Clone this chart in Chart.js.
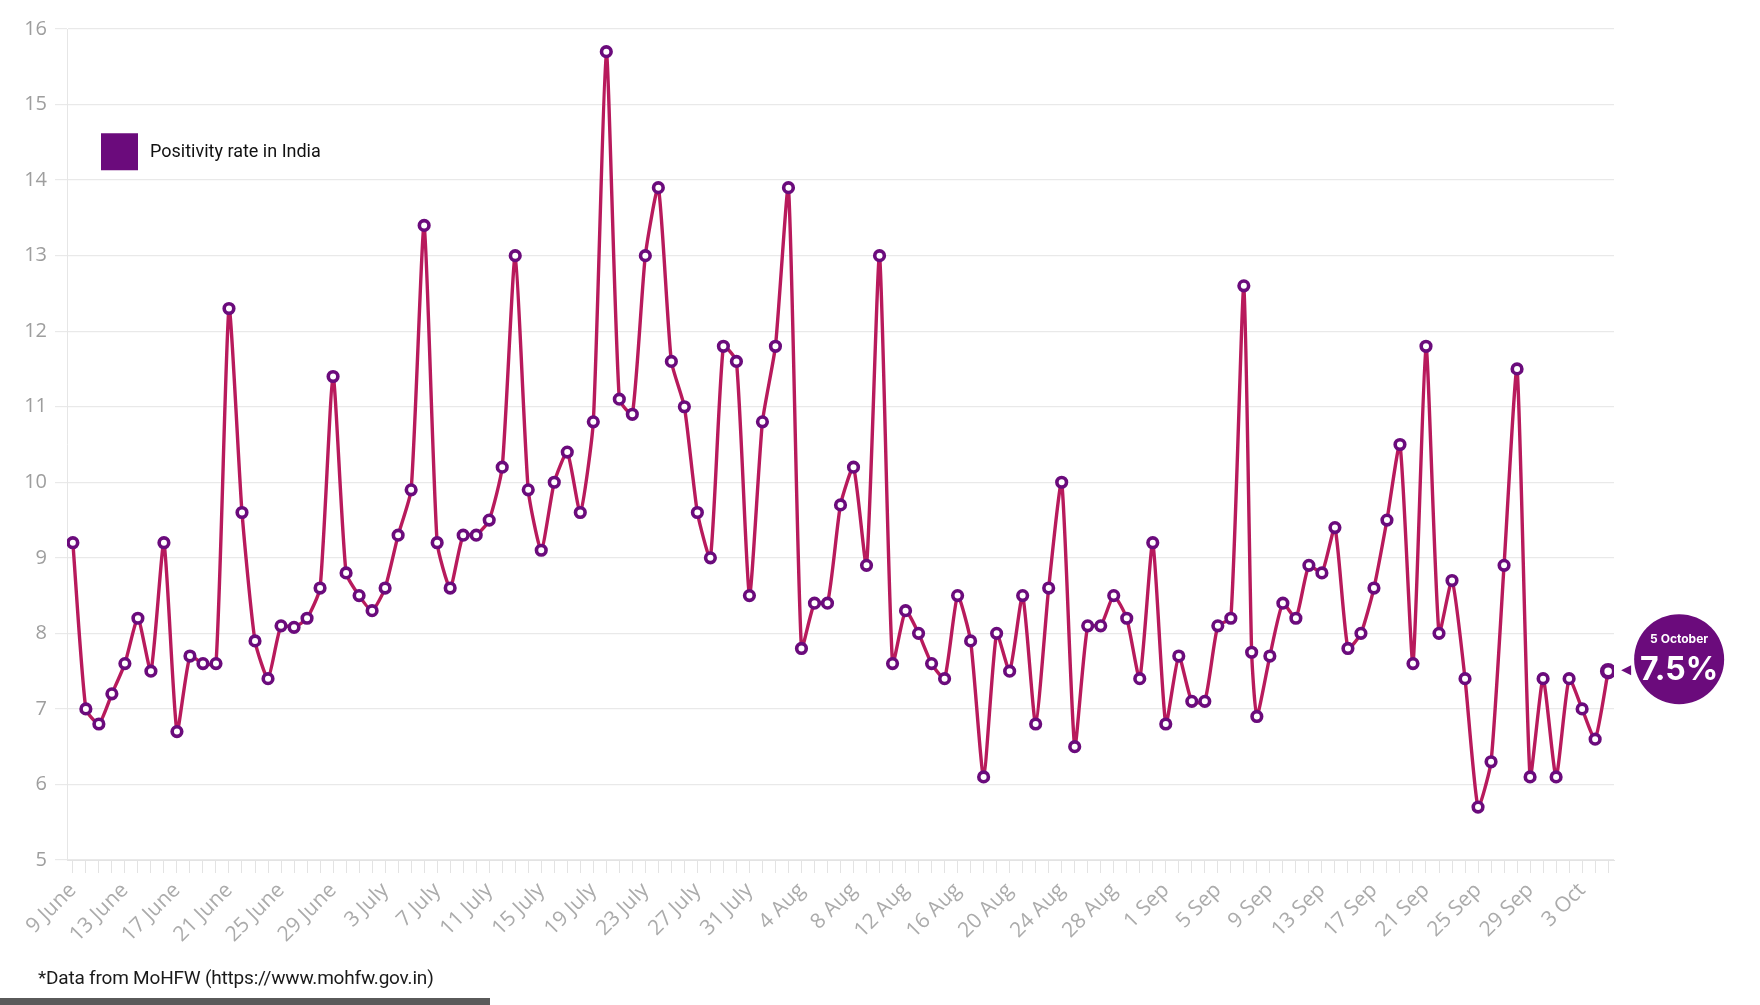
<!DOCTYPE html>
<html>
<head>
<meta charset="utf-8">
<script src="https://cdn.jsdelivr.net/npm/chart.js@4.4.1/dist/chart.umd.min.js"></script>
<style>
  html, body { margin: 0; padding: 0; background: #ffffff; }
  #wrap { position: relative; width: 1760px; height: 1005px; overflow: hidden; background: #fff; }
  #c { position: absolute; left: 0; top: 0; }
  #note { position: absolute; left: 38px; top: 966px; font-family: Roboto, "Noto Sans", sans-serif; font-size: 19px; color: #1a1a1a; letter-spacing: -0.2px; }
  #bar { position: absolute; left: 0; top: 998px; width: 490px; height: 7px; background: #5a5a5a; }
</style>
</head>
<body>
<div id="wrap">
  <canvas id="c" width="1760" height="1005"></canvas>
  <div id="note">*Data from MoHFW (https://www.mohfw.gov.in)</div>
  <div id="bar"></div>
</div>
<script>
// ---- Data ----
const seriesLabel = 'Positivity rate in India';

// day offset from 9 June for each plotted point (one extra reading sits between 7 and 8 Sep)
const dayOffset = [
  0,1,2,3,4,5,6,7,8,9,10,11,12,13,14,15,16,17,18,19,
  20,21,22,23,24,25,26,27,28,29,30,31,32,33,34,35,36,37,38,39,
  40,41,42,43,44,45,46,47,48,49,50,51,52,53,54,55,56,57,58,59,
  60,61,62,63,64,65,66,67,68,69,70,71,72,73,74,75,76,77,78,79,
  80,81,82,83,84,85,86,87,88,89,90,90.6,91,92,93,94,95,96,97,98,99,
  100,101,102,103,104,105,106,107,108,109,110,111,112,113,114,115,116,117,118
];

const positivity = [
  9.2,7.0,6.8,7.2,7.6,8.2,7.5,9.2,6.7,7.7,7.6,7.6,12.3,9.6,7.9,7.4,8.1,8.08,8.2,8.6,
  11.4,8.8,8.5,8.3,8.6,9.3,9.9,13.4,9.2,8.6,9.3,9.3,9.5,10.2,13.0,9.9,9.1,10.0,10.4,9.6,
  10.8,15.7,11.1,10.9,13.0,13.9,11.6,11.0,9.6,9.0,11.8,11.6,8.5,10.8,11.8,13.9,7.8,8.4,8.4,9.7,
  10.2,8.9,13.0,7.6,8.3,8.0,7.6,7.4,8.5,7.9,6.1,8.0,7.5,8.5,6.8,8.6,10.0,6.5,8.1,8.1,
  8.5,8.2,7.4,9.2,6.8,7.7,7.1,7.1,8.1,8.2,12.6,7.75,6.9,7.7,8.4,8.2,8.9,8.8,9.4,7.8,8.0,
  8.6,9.5,10.5,7.6,11.8,8.0,8.7,7.4,5.7,6.3,8.9,11.5,6.1,7.4,6.1,7.4,7.0,6.6,7.5
];

// x tick labels, one every 4 days starting 9 June
const tickLabels = [
  '9 June','13 June','17 June','21 June','25 June','29 June','3 July','7 July','11 July','15 July',
  '19 July','23 July','27 July','31 July','4 Aug','8 Aug','12 Aug','16 Aug','20 Aug','24 Aug',
  '28 Aug','1 Sep','5 Sep','9 Sep','13 Sep','17 Sep','21 Sep','25 Sep','29 Sep','3 Oct'
];
const tickEvery = 4;
const totalDays = 119;

const yTicks = [5,6,7,8,9,10,11,12,13,14,15,16];

const calloutDate = '5 October';
const calloutValue = '7.5%';

// ---- Styles ----
const PURPLE = '#6b0b7c';
const LINE = '#b81a5c';
const GRID = '#e9e9e9';

const points = dayOffset.map((d, i) => ({ x: d, y: positivity[i] }));
const lastIdx = points.length - 1;

const overlayPlugin = {
  id: 'overlay',
  afterDraw(chart) {
    const ctx = chart.ctx;
    const xs = chart.scales.x, ys = chart.scales.y;
    // legend
    ctx.save();
    const lx = xs.left + 34, ly = ys.getPixelForValue(14.62);
    ctx.fillStyle = PURPLE;
    ctx.fillRect(lx, ly, 37, 37);
    ctx.fillStyle = '#111';
    ctx.font = '18px Roboto, "Noto Sans", sans-serif';
    ctx.textBaseline = 'middle';
    ctx.textAlign = 'left';
    ctx.fillText(chart.data.datasets[0].label, lx + 49, ly + 19);
    ctx.restore();

    // callout bubble for last point
    const p = points[lastIdx];
    const px = xs.getPixelForValue(p.x), py = ys.getPixelForValue(p.y);
    const cx = px + 71, cy = py - 12, r = 45;
    ctx.save();
    ctx.fillStyle = PURPLE;
    ctx.beginPath();
    ctx.arc(cx, cy, r, 0, Math.PI * 2);
    ctx.fill();
    // pointer triangle
    ctx.beginPath();
    ctx.moveTo(px + 13, py - 1);
    ctx.lineTo(px + 23, py - 6);
    ctx.lineTo(px + 23, py + 4);
    ctx.closePath();
    ctx.fill();
    ctx.fillStyle = '#fff';
    ctx.textAlign = 'center';
    ctx.textBaseline = 'middle';
    ctx.font = 'bold 12px Inter, Roboto, sans-serif';
    ctx.fillText(calloutDate, cx, cy - 20);
    ctx.font = 'bold 32px Inter, Roboto, sans-serif';
    ctx.fillText(calloutValue, cx, cy + 11);
    ctx.restore();
  }
};

Chart.defaults.font.family = '"Open Sans", "Noto Sans", sans-serif';

new Chart(document.getElementById('c'), {
  type: 'line',
  data: {
    datasets: [{
      label: seriesLabel,
      data: points,
      borderColor: LINE,
      borderWidth: 3.4,
      tension: 0.18,
      pointRadius: (c) => c.dataIndex === lastIdx ? 6 : 4.8,
      pointBorderWidth: (c) => c.dataIndex === lastIdx ? 4.5 : 3.6,
      pointBorderColor: PURPLE,
      pointBackgroundColor: '#ffffff',
      pointHoverRadius: 5
    }]
  },
  options: {
    responsive: false,
    animation: false,
    layout: { padding: { left: 0, right: 146, top: 29, bottom: 45 } },
    plugins: {
      legend: { display: false },
      tooltip: { enabled: false }
    },
    scales: {
      x: {
        type: 'linear',
        min: -0.45,
        max: totalDays - 1 + 0.45,
        afterBuildTicks(scale) {
          const t = [];
          for (let i = 0; i < totalDays; i++) t.push({ value: i });
          scale.ticks = t;
        },
        afterFit(scale) { scale.height = 100; },
        grid: { drawOnChartArea: false, drawTicks: true, tickLength: 13, color: GRID, tickColor: '#e3e3e3' },
        border: { display: true, color: '#e3e3e3' },
        ticks: {
          autoSkip: false,
          minRotation: 45,
          maxRotation: 45,
          padding: 5,
          color: '#ababab',
          font: { size: 21 },
          callback: (v) => (v % tickEvery === 0) ? (tickLabels[v / tickEvery] || '') : ''
        }
      },
      y: {
        min: yTicks[0],
        max: yTicks[yTicks.length - 1],
        afterBuildTicks(scale) { scale.ticks = yTicks.map(v => ({ value: v })); },
        afterFit(scale) { scale.width = 67; },
        grid: { color: GRID, tickLength: 12, lineWidth: 1.2 },
        border: { display: true, color: '#e6e6e6' },
        ticks: {
          padding: 8,
          color: '#9e9e9e',
          font: { size: 20 }
        }
      }
    }
  },
  plugins: [overlayPlugin]
});
</script>
</body>
</html>
